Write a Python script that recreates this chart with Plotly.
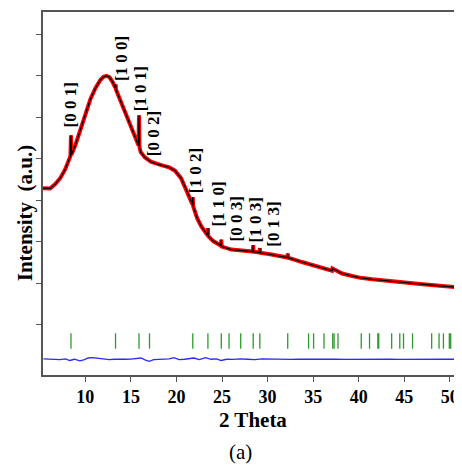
import plotly.graph_objects as go

# Observed / calculated profile (2 Theta, intensity a.u.)
two_theta = [5.36, 5.80, 6.13, 6.69, 7.24, 7.79, 8.12, 8.36, 8.42, 8.47, 8.90, 9.45, 10.00, 10.55,
             11.10, 11.66, 11.99, 12.32, 12.65, 12.98, 13.28, 13.32, 13.37, 13.87, 14.42, 14.97,
             15.41, 15.83, 15.89, 15.94, 16.08, 16.52, 17.18, 17.85, 18.51, 19.17, 19.83, 20.50,
             21.16, 21.74, 21.79, 21.83, 22.27, 22.71, 23.40, 23.45, 23.49, 24.03, 24.87, 24.92,
             24.96, 26.02, 27.13, 28.38, 28.42, 28.46, 29.10, 29.15, 29.19, 30.44, 32.17, 32.21,
             32.26, 33.76, 35.41, 37.07, 37.12, 38.18, 39.28, 40.20, 41.49, 42.60, 43.70, 45.00,
             45.91, 47.02, 48.12, 49.23, 50.33, 51.22]
intensity = [4.289, 4.277, 4.282, 4.386, 4.530, 4.747, 4.916, 5.060, 5.566, 5.096, 5.325, 5.711,
             6.096, 6.434, 6.699, 6.904, 6.976, 7.000, 6.964, 6.855, 6.711, 6.795, 6.663, 6.386,
             6.072, 5.783, 5.542, 5.325, 6.048, 5.277, 5.157, 5.036, 4.928, 4.867, 4.831, 4.795,
             4.711, 4.530, 4.217, 3.904, 4.072, 3.855, 3.566, 3.373, 3.157, 3.325, 3.133, 3.012,
             2.904, 3.048, 2.880, 2.807, 2.783, 2.759, 2.916, 2.754, 2.735, 2.843, 2.730, 2.687,
             2.614, 2.711, 2.610, 2.506, 2.402, 2.296, 2.349, 2.229, 2.169, 2.125, 2.089, 2.060,
             2.031, 2.012, 1.993, 1.971, 1.952, 1.928, 1.911, 1.887]

# Bragg reflection positions
bragg_positions = [8.42, 13.31, 15.89, 17.04, 21.79, 23.45, 24.92, 25.77, 27.05, 28.42, 29.15,
                   32.21, 34.5, 35.05, 36.19, 37.15, 37.3, 37.73, 40.28, 41.19, 42.1, 42.2, 43.62,
                   44.51, 44.92, 45.91, 48.01, 48.82, 49.3, 49.95, 50.1, 50.88]
bragg_level = [0.60] * len(bragg_positions)

# Difference curve
diff_x = [5.4, 6.0, 6.6, 7.2, 7.8, 8.3, 8.8, 9.4, 9.9, 10.3, 10.8, 11.4, 12.0, 12.6, 13.2, 13.8,
          14.4, 15.0, 15.6, 16.1, 16.6, 17.0, 17.5, 18.1, 18.7, 19.2, 19.7, 20.3, 20.9, 21.5,
          21.9, 22.5, 23.2, 23.8, 24.4, 24.9, 25.5, 26.2, 27.0, 27.8, 28.6, 29.4, 30.5, 31.5,
          32.5, 33.5, 34.5, 35.5, 36.5, 37.5, 38.5, 39.5, 40.5, 41.5, 42.5, 43.5, 44.5, 45.5,
          46.5, 47.5, 48.5, 49.5, 50.5, 51.0]
diff_y = [0.17, 0.16, 0.165, 0.15, 0.17, 0.13, 0.16, 0.12, 0.15, 0.19, 0.20, 0.18, 0.16, 0.15,
          0.16, 0.155, 0.16, 0.165, 0.17, 0.19, 0.14, 0.11, 0.15, 0.16, 0.165, 0.17, 0.20, 0.15,
          0.16, 0.17, 0.19, 0.15, 0.20, 0.16, 0.17, 0.13, 0.16, 0.155, 0.17, 0.16, 0.15, 0.17,
          0.16, 0.165, 0.155, 0.16, 0.165, 0.155, 0.16, 0.165, 0.155, 0.16, 0.165, 0.155, 0.16,
          0.165, 0.155, 0.16, 0.165, 0.155, 0.16, 0.165, 0.16, 0.16]

# Miller index labels
hkl_labels = ["[0 0 1]", "[1 0 0]", "[1 0 1]", "[0 0 2]", "[1 0 2]", "[1 1 0]", "[0 0 3]", "[1 0 3]", "[0 1 3]"]
hkl_x = [8.34, 13.98, 16.02, 17.51, 22.04, 24.59, 26.57, 28.67, 30.66]
hkl_y = [6.29, 7.42, 6.68, 5.61, 4.70, 3.90, 3.54, 3.52, 3.42]

x_ticks = [10, 15, 20, 25, 30, 35, 40, 45, 50]
y_ticks = [1, 2, 3, 4, 5, 6, 7, 8]

SERIF = "Liberation Serif, Times New Roman, serif"

fig = go.Figure()
fig.add_trace(go.Scatter(x=diff_x, y=diff_y, mode="lines",
                         line=dict(color="#2a2aff", width=1.3), showlegend=False))
fig.add_trace(go.Scatter(x=bragg_positions, y=bragg_level, mode="markers",
                         marker=dict(symbol="line-ns", size=11,
                                     line=dict(color="#2e9a2e", width=1.3)), showlegend=False))
fig.add_trace(go.Scatter(x=two_theta, y=intensity, mode="lines",
                         line=dict(color="#ff0000", width=4), showlegend=False))
fig.add_trace(go.Scatter(x=two_theta, y=intensity, mode="lines",
                         line=dict(color="#000000", width=1.2), showlegend=False))

for t, x, y in zip(hkl_labels, hkl_x, hkl_y):
    fig.add_annotation(x=x, y=y, text="<b>" + t + "</b>", textangle=-90, showarrow=False,
                       xanchor="center", yanchor="middle",
                       font=dict(family=SERIF, size=17, color="#000000"))

fig.add_annotation(x=0.506, y=-0.124, xref="paper", yref="paper", text="<b>2 Theta</b>",
                   xanchor="center", yanchor="middle",
                   showarrow=False, font=dict(family=SERIF, size=21, color="#000000"))
fig.add_annotation(x=-0.043, y=0.446, xref="paper", yref="paper", text="<b>Intensity  (a.u.)</b>",
                   xanchor="center", yanchor="middle",
                   textangle=-90, showarrow=False, font=dict(family=SERIF, size=21, color="#000000"))
fig.add_annotation(x=0.475, y=-0.213, xref="paper", yref="paper", text="(a)", showarrow=False,
                   xanchor="center", yanchor="middle",
                   font=dict(family=SERIF, size=21, color="#000000"))

# the page body has an 8px default margin, so the figure is 8px smaller and margins shifted
fig.update_layout(
    width=454, height=457,
    margin=dict(l=35, r=4, t=4, b=90, autoexpand=False),
    paper_bgcolor="white", plot_bgcolor="white",
    xaxis=dict(range=[5.35, 50.9], tickvals=x_ticks, ticks="outside", ticklen=5,
               tickcolor="#555", showgrid=False, zeroline=False, automargin=False,
               showline=True, linecolor="#555", linewidth=1.5, mirror=True,
               tickfont=dict(family=SERIF, size=18, color="#000", weight="bold")),
    yaxis=dict(range=[-0.22, 8.54], tickvals=y_ticks, ticks="outside", ticklen=5,
               tickcolor="#555", showticklabels=False, showgrid=False, zeroline=False,
               automargin=False,
               showline=True, linecolor="#555", linewidth=1.5, mirror=True),
)

fig.write_html("out.html")
